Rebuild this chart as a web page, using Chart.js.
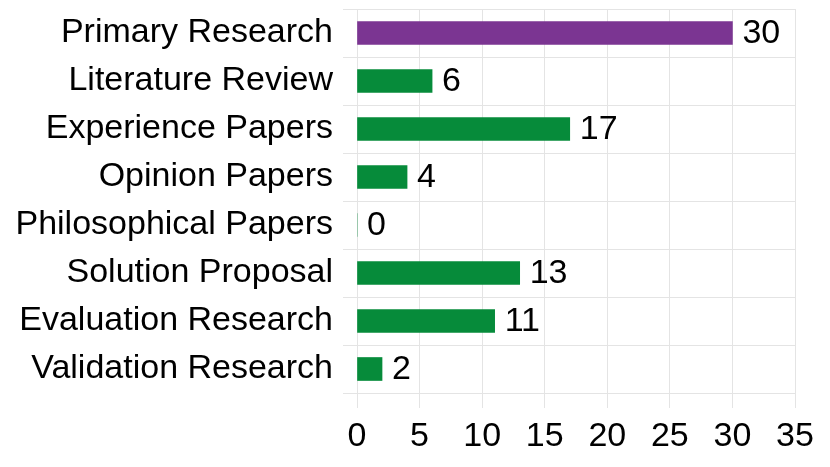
<!DOCTYPE html>
<html>
<head>
<meta charset="utf-8">
<script src="https://cdn.jsdelivr.net/npm/chart.js@4"></script>
<style>
html,body{margin:0;padding:0;background:#fff;}
#wrap{width:830px;height:467px;position:relative;}
</style>
</head>
<body>
<div id="wrap"><canvas id="c" width="830" height="467"></canvas></div>
<script>
const categories = ["Primary Research","Literature Review","Experience Papers","Opinion Papers","Philosophical Papers","Solution Proposal","Evaluation Research","Validation Research"];
const values = [30, 6, 17, 4, 0, 13, 11, 2];
const barColors = ["#7B3592","#068B3A","#068B3A","#068B3A","#068B3A","#068B3A","#068B3A","#068B3A"];
const xTicks = [0,5,10,15,20,25,30,35];

const FONT = "'Liberation Sans', Arial, sans-serif";
const gridColor = "#e4e4e4";

const valueLabels = {
  id: 'valueLabels',
  afterDatasetsDraw(chart) {
    const ctx = chart.ctx;
    const meta = chart.getDatasetMeta(0);
    ctx.save();
    ctx.font = "34px " + FONT;
    ctx.fillStyle = "#000";
    ctx.textAlign = "left";
    ctx.textBaseline = "middle";
    meta.data.forEach((bar, i) => {
      ctx.fillText(String(values[i]), bar.x + 10, bar.y + 1);
    });
    ctx.restore();
  }
};

new Chart(document.getElementById('c'), {
  type: 'bar',
  data: {
    labels: categories,
    datasets: [{
      data: values,
      backgroundColor: barColors,
      borderWidth: 0,
      barThickness: 23
    }]
  },
  options: {
    indexAxis: 'y',
    responsive: false,
    animation: false,
    layout: { padding: { top: 9, right: 35, left: 0, bottom: 0 } },
    plugins: { legend: { display: false }, tooltip: { enabled: false } },
    scales: {
      x: {
        min: 0, max: 35,
        afterBuildTicks(scale) { scale.ticks = xTicks.map(v => ({ value: v })); },
        afterFit(scale) { scale.height = 74; scale.paddingLeft = 0; scale.paddingRight = 0; },
        grid: { color: gridColor, tickLength: 15, drawTicks: true },
        border: { color: gridColor },
        ticks: { color: "#000", font: { family: FONT, size: 34 }, padding: 8, maxRotation: 0 }
      },
      y: {
        afterFit(scale) { scale.width = 357; scale.paddingTop = 0; scale.paddingBottom = 0; },
        grid: { color: gridColor, tickLength: 14, offset: true },
        border: { color: gridColor },
        ticks: { color: "#000", font: { family: FONT, size: 34 }, padding: 10 }
      }
    }
  },
  plugins: [valueLabels]
});
</script>
</body>
</html>
